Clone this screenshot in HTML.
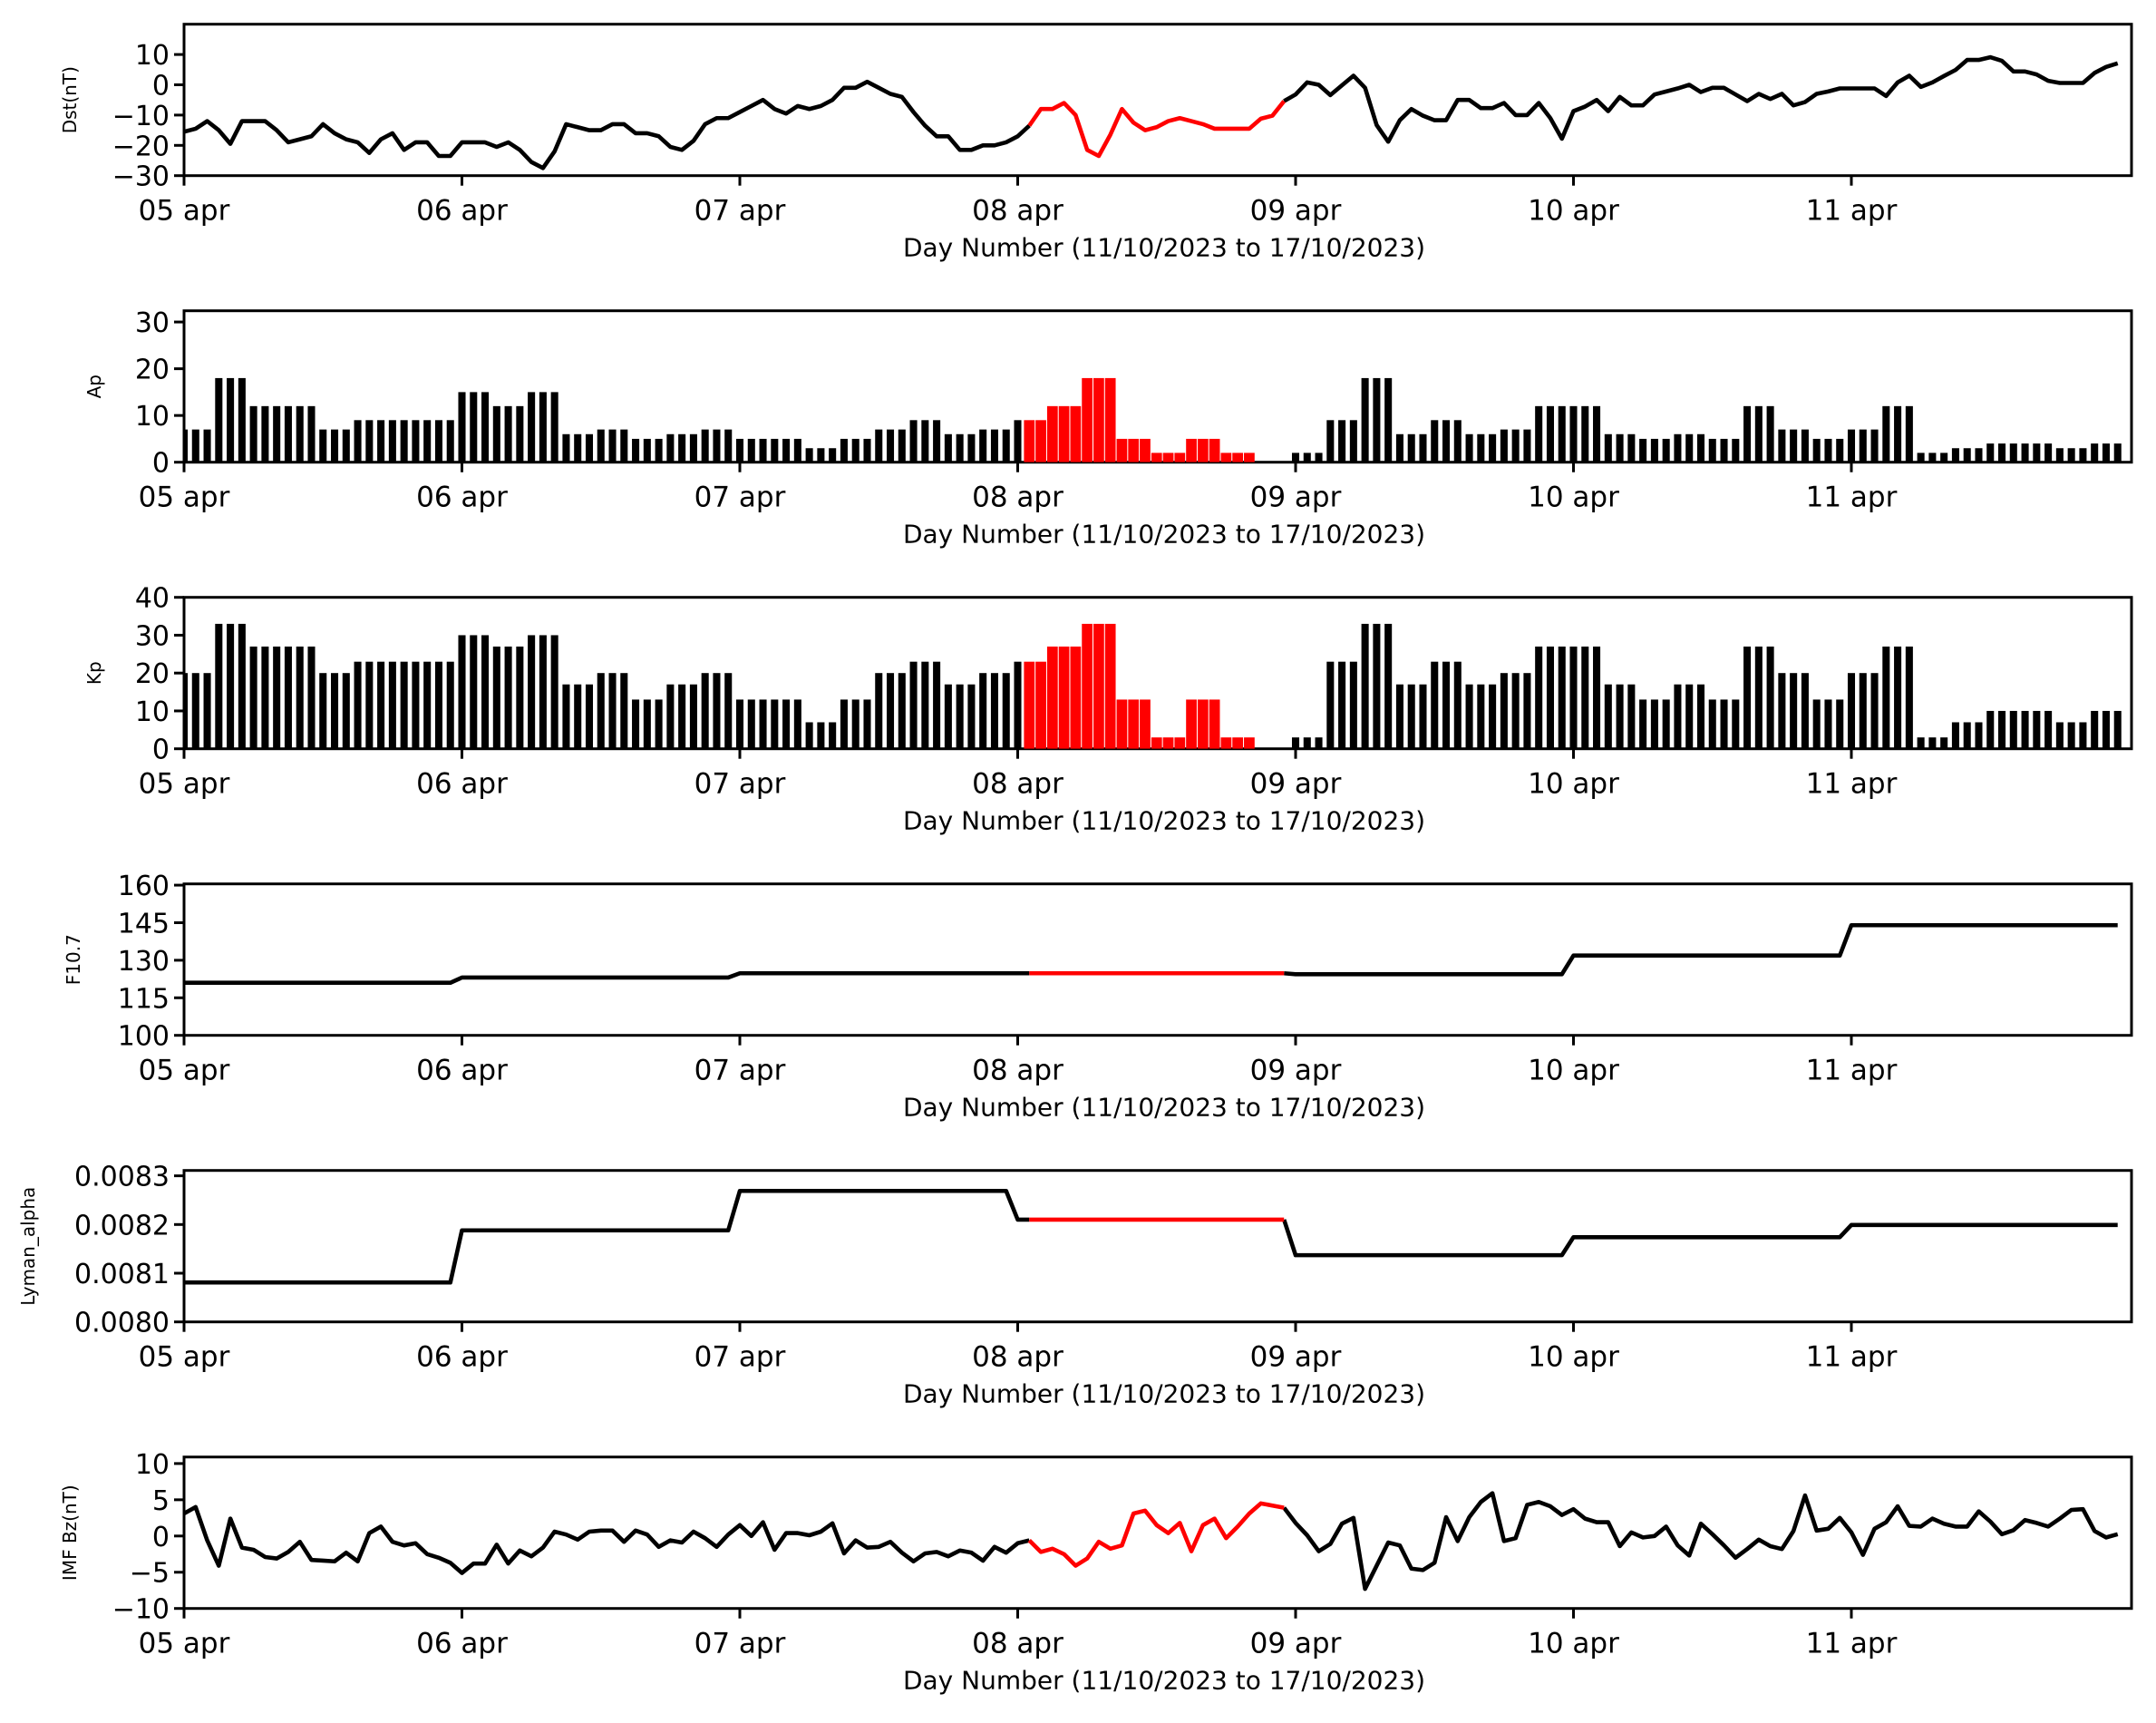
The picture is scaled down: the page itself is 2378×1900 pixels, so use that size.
<!DOCTYPE html>
<html><head><meta charset="utf-8"><style>
html,body{margin:0;padding:0;background:#fff;}
svg{display:block;font-family:"DejaVu Sans","Liberation Sans",sans-serif;}
</style></head><body>
<svg id="fig" width="2378" height="1900" viewBox="0 0 2378 1900" xmlns="http://www.w3.org/2000/svg"></svg>
<script>
// ---- data (hourly index 0..167, 05 apr 00h .. 11 apr 23h) ----
const dayLabels = ["05 apr","06 apr","07 apr","08 apr","09 apr","10 apr","11 apr"];
const dstValues = [-15.5,-14.5,-12,-15,-19.5,-12,-12,-12,-15,-19,-18,-17,-13,-16,-18,-19,-22.5,-18,-16,-21.5,-19,-19,-23.5,-23.5,
 -19,-19,-19,-20.5,-19,-21.5,-25.5,-27.5,-22,-13,-14,-15,-15,-13,-13,-16,-16,-17,-20.5,-21.5,-18.5,-13,-11,-11,
 -9,-7,-5,-8,-9.5,-7,-8,-7,-5,-1,-1,1,-1,-3,-4,-9,-13.5,-17,-17,-21.5,-21.5,-20,-20,-19,
 -17,-13.5,-8,-8,-6,-10,-21.5,-23.5,-16.5,-8,-12.5,-15,-14,-12,-11,-12,-13,-14.5,-14.5,-14.5,-14.5,-11.2,-10.2,-5.4,
 -3.2,0.8,0,-3.4,-0.2,3,-1,-13.3,-18.8,-11.7,-8,-10.2,-11.7,-11.7,-5,-5,-7.7,-7.7,-6,-10,-10,-6,-11,-17.8,
 -8.7,-7.2,-5,-8.7,-4,-6.8,-6.8,-3.2,-2.2,-1.2,0,-2.4,-1,-1,-3.2,-5.4,-3,-4.7,-3,-6.8,-5.7,-3,-2.2,-1.2,
 -1.2,-1.2,-1.2,-3.7,0.8,3,-0.7,0.8,2.9,4.9,8.2,8.2,9.1,7.9,4.4,4.4,3.4,1.3,0.6,0.6,0.6,3.9,5.9,7.1];
const apValues = [7,18,12,12,7,9,9,9, 15,12,15,6,7,5,6,7, 5,5,3,5,7,9,6,7, 9,12,18,5,2,5,2,0,
 2,9,18,6,9,6,7,12, 12,6,5,6,5,12,7,5, 7,12,2,3,4,4,3,4];
const kpValues = [20,33,27,27,20,23,23,23, 30,27,30,17,20,13,17,20, 13,13,7,13,20,23,17,20, 23,27,33,13,3,13,3,0,
 3,23,33,17,23,17,20,27, 27,17,13,17,13,27,20,13, 20,27,3,7,10,10,7,10];
const f107Daily = [121,123.1,124.8,124.8,124.4,131.9,144];
const lymanDaily = [0.008081,0.008188,0.008269,0.008210,0.008137,0.008174,0.008199];
const bzValues = [3.1,4,-0.6,-4.1,2.4,-1.6,-1.9,-2.9,-3.1,-2.2,-0.8,-3.3,-3.4,-3.5,-2.3,-3.5,0.4,1.3,-0.8,-1.3,-1,-2.5,-3,-3.7,
 -5.1,-3.8,-3.8,-1.2,-3.8,-2,-2.8,-1.6,0.6,0.2,-0.5,0.6,0.75,0.75,-0.8,0.75,0.2,-1.5,-0.6,-0.9,0.6,-0.3,-1.5,0.2,
 1.5,0,1.9,-1.9,0.4,0.4,0.1,0.6,1.75,-2.4,-0.6,-1.6,-1.5,-0.8,-2.3,-3.5,-2.4,-2.2,-2.8,-2,-2.3,-3.4,-1.5,-2.3,
 -1,-0.6,-2.2,-1.75,-2.5,-4.1,-3.1,-0.8,-1.75,-1.3,3.1,3.5,1.5,0.4,1.8,-2.1,1.5,2.4,-0.3,1.3,3.1,4.5,4.2,3.9,
 1.8,0.1,-2.1,-1.1,1.7,2.5,-7.3,-4.1,-0.9,-1.3,-4.5,-4.7,-3.7,2.6,-0.7,2.6,4.7,5.9,-0.7,-0.3,4.3,4.7,4.1,2.9,
 3.7,2.4,1.9,1.9,-1.4,0.5,-0.2,0,1.3,-1.3,-2.7,1.7,0.25,-1.3,-3,-1.8,-0.5,-1.4,-1.8,0.7,5.6,0.75,1,2.5,
 0.5,-2.6,1,1.9,4.1,1.4,1.3,2.4,1.7,1.3,1.3,3.4,2,0.25,0.8,2.2,1.8,1.3,2.4,3.6,3.7,0.7,-0.2,0.25];
const redStart = 73, redEnd = 95;

// ---- layout ----
const NS = "http://www.w3.org/2000/svg";
const svg = document.getElementById("fig");
const X0 = 203, X1 = 2351, DAYPX = 306.5;
function xs(h){ return X0 + h * DAYPX / 24; }
function mk(tag, attrs, parent){
  const e = document.createElementNS(NS, tag);
  for (const k in attrs) e.setAttribute(k, attrs[k]);
  (parent || svg).appendChild(e);
  return e;
}
const panels = [
  {name:"dst", label:"Dst(nT)", lx:84, ymin:-30, ymax:20, ticks:[10,0,-10,-20,-30], fmt:v=>String(v)},
  {name:"ap", label:"Ap", lx:111, ymin:0, ymax:32.4, ticks:[0,10,20,30], fmt:v=>String(v)},
  {name:"kp", label:"Kp", lx:111, ymin:0, ymax:40, ticks:[0,10,20,30,40], fmt:v=>String(v)},
  {name:"f107", label:"F10.7", lx:88, ymin:100, ymax:160.5, ticks:[100,115,130,145,160], fmt:v=>String(v)},
  {name:"lyman", label:"Lyman_alpha", lx:38, ymin:0.0080, ymax:0.008311, ticks:[0.0080,0.0081,0.0082,0.0083], fmt:v=>v.toFixed(4)},
  {name:"imf-bz", label:"IMF Bz(nT)", lx:84, ymin:-10, ymax:10.9, ticks:[10,5,0,-5,-10], fmt:v=>String(v)}
];
const H = 167;
panels.forEach((p, i) => {
  p.bottom = 193.7 + i * 316;
  p.top = p.bottom - H;
  p.y = v => p.bottom - (v - p.ymin) / (p.ymax - p.ymin) * H;
});

function hourly(daily){ const out=[]; for(let h=0;h<168;h++) out.push(daily[Math.floor(h/24)]); return out; }
function line(p, vals, from, to, color, name){
  let d = "";
  for (let h = from; h <= to; h++) d += (h===from?"M":"L") + xs(h).toFixed(2) + "," + p.y(vals[h]).toFixed(2);
  const el = mk("path", {d:d, fill:"none", stroke:color, "stroke-width":4.6, "stroke-linejoin":"round", "clip-path":"url(#clip-"+p.name+")"});
  
  
}
function bars(p, vals3, name){
  const g = mk("g", {"clip-path":"url(#clip-"+p.name+")"});
  
  
  for (let h = 0; h < 168; h++){
    const v = vals3[Math.floor(h/3)];
    if (v <= 0) continue;
    const red = h >= redStart && h <= redEnd;
    const w = (red ? 0.92 : 0.63) * DAYPX / 24;
    const r = mk("rect", {x:(xs(h)-w/2).toFixed(2), y:p.y(v).toFixed(2), width:w.toFixed(2), height:(p.bottom-p.y(v)).toFixed(2), fill: red ? "#ff0000" : "#000"}, g);
    
    
  }
}

const defs = mk("defs", {});
panels.forEach(p => {
  const cp = mk("clipPath", {id:"clip-"+p.name}, defs);
  mk("rect", {x:X0, y:p.top, width:X1-X0, height:H}, cp);
});

panels.forEach(p => {
  const g = mk("g", {});
  
  
  if (p.name === "dst") { line(p, dstValues, 0, redStart, "#000", "dst-line"); line(p, dstValues, redEnd, 167, "#000", "dst-line-after"); line(p, dstValues, redStart, redEnd, "#ff0000", "dst-line-highlight"); }
  if (p.name === "ap") bars(p, apValues, "ap");
  if (p.name === "kp") bars(p, kpValues, "kp");
  if (p.name === "f107") { const v = hourly(f107Daily); line(p, v, 0, redStart, "#000", "f107-line"); line(p, v, redEnd, 167, "#000", "f107-line-after"); line(p, v, redStart, redEnd, "#ff0000", "f107-line-highlight"); }
  if (p.name === "lyman") { const v = hourly(lymanDaily); line(p, v, 0, redStart, "#000", "lyman-line"); line(p, v, redEnd, 167, "#000", "lyman-line-after"); line(p, v, redStart, redEnd, "#ff0000", "lyman-line-highlight"); }
  if (p.name === "imf-bz") { line(p, bzValues, 0, redStart, "#000", "bz-line"); line(p, bzValues, redEnd, 167, "#000", "bz-line-after"); line(p, bzValues, redStart, redEnd, "#ff0000", "bz-line-highlight"); }
  const fr = mk("rect", {x:X0, y:p.top, width:X1-X0, height:H, fill:"none", stroke:"#000", "stroke-width":3}, g);
  
  
  p.ticks.forEach(t => {
    const yy = p.y(t);
    mk("line", {x1:X0-11, x2:X0, y1:yy, y2:yy, stroke:"#000", "stroke-width":3}, g);
    const tx = mk("text", {x:X0-16, y:yy+11, "text-anchor":"end", "font-size":30, fill:"#000"}, g);
    tx.textContent = p.fmt(t).replace("-", "\u2212");
    
    
  });
  dayLabels.forEach((lab, d) => {
    const xx = xs(d*24);
    mk("line", {x1:xx, x2:xx, y1:p.bottom, y2:p.bottom+11, stroke:"#000", "stroke-width":3}, g);
    const tx = mk("text", {x:xx, y:p.bottom+49, "text-anchor":"middle", "font-size":31, fill:"#000"}, g);
    tx.textContent = lab;
    
    
  });
  const xl = mk("text", {x:(X0+X1)/2 + 7, y:p.bottom+89, "text-anchor":"middle", "font-size":28, fill:"#000"}, g);
  xl.textContent = "Day Number (11/10/2023 to 17/10/2023)";
  
  
  const cy = (p.top + p.bottom) / 2;
  const yl = mk("text", {x:p.lx, y:cy, "text-anchor":"middle", "font-size":20, fill:"#000", transform:"rotate(-90 "+p.lx+" "+cy+")"}, g);
  yl.textContent = p.label;
  
  
});
</script>
</body></html>
